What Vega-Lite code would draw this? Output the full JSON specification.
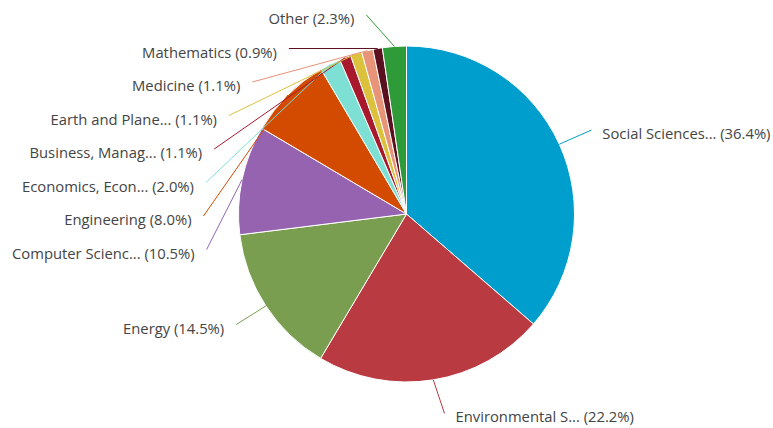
{
  "$schema": "https://vega.github.io/schema/vega-lite/v6.json",
  "width": 733,
  "height": 428,
  "autosize": {"type": "none"},
  "padding": {"left": 40, "right": 0, "top": 0, "bottom": 0},
  "background": "white",
  "config": {"view": {"stroke": null}},
  "data": {
    "values": [
      {"cat": "Social Sciences...", "pct": 36.4},
      {"cat": "Environmental S...", "pct": 22.2},
      {"cat": "Energy", "pct": 14.5},
      {"cat": "Computer Scienc...", "pct": 10.5},
      {"cat": "Engineering", "pct": 8.0},
      {"cat": "Economics, Econ...", "pct": 2.0},
      {"cat": "Business, Manag...", "pct": 1.1},
      {"cat": "Earth and Plane...", "pct": 1.1},
      {"cat": "Medicine", "pct": 1.1},
      {"cat": "Mathematics", "pct": 0.9},
      {"cat": "Other", "pct": 2.3}
    ]
  },
  "transform": [
    {"window": [{"op": "row_number", "as": "idx"}]},
    {"joinaggregate": [{"op": "sum", "field": "pct", "as": "total"}]},
    {"window": [{"op": "sum", "field": "pct", "as": "cum"}], "sort": [{"field": "idx"}], "frame": [null, 0]},
    {"calculate": "2*PI*(datum.cum - datum.pct/2)/datum.total", "as": "phi"},
    {"calculate": "sin(datum.phi) < 0 ? 'L' : 'R'", "as": "side"},
    {"calculate": "max(-199, -202*cos(datum.phi))", "as": "ey"},
    {"window": [{"op": "row_number", "as": "k"}], "groupby": ["side"], "sort": [{"field": "ey", "order": "ascending"}, {"field": "idx", "order": "descending"}]},
    {"calculate": "datum.ey - datum.k*33.5", "as": "z"},
    {"window": [{"op": "max", "field": "z", "as": "cz"}], "groupby": ["side"], "sort": [{"field": "ey", "order": "ascending"}, {"field": "idx", "order": "descending"}], "frame": [null, 0]},
    {"calculate": "datum.k*33.5 + datum.cz", "as": "ay"},
    {"calculate": "(datum.side == 'L' ? -1 : 1) * sqrt(max(0, 203*203 - datum.ay*datum.ay))", "as": "ax"},
    {"calculate": "168*sin(datum.phi)", "as": "ex"},
    {"calculate": "-168*cos(datum.phi)", "as": "eyy"},
    {"calculate": "datum.ax + (datum.side == 'L' ? -12 : 11)", "as": "tx"},
    {"calculate": "datum.ay + 5", "as": "ty"},
    {"calculate": "datum.cat + ' (' + format(datum.pct, '.1f') + '%)'", "as": "lbl"}
  ],
  "layer": [
    {
      "mark": {"type": "arc", "outerRadius": 168, "stroke": "white", "strokeWidth": 1},
      "encoding": {
        "theta": {"field": "pct", "type": "quantitative", "stack": true},
        "order": {"field": "idx", "type": "quantitative"},
        "color": {
          "field": "cat", "type": "nominal", "legend": null,
          "scale": {
            "domain": ["Social Sciences...", "Environmental S...", "Energy", "Computer Scienc...", "Engineering", "Economics, Econ...", "Business, Manag...", "Earth and Plane...", "Medicine", "Mathematics", "Other"],
            "range": ["#009ecc", "#b93a40", "#7a9e50", "#9663b0", "#d24b00", "#7ee0d4", "#a8192e", "#dcc13c", "#e89478", "#5b1020", "#2e9a38"]
          }
        }
      }
    },
    {
      "mark": {"type": "rule", "strokeWidth": 1},
      "encoding": {
        "x": {"field": "ex", "type": "quantitative", "axis": null, "scale": {"domain": [-366.5, 366.5], "nice": false, "zero": false}},
        "y": {"field": "eyy", "type": "quantitative", "axis": null, "scale": {"domain": [-214, 214], "nice": false, "zero": false, "reverse": true}},
        "x2": {"field": "ax"},
        "y2": {"field": "ay"},
        "color": {"field": "cat", "type": "nominal", "legend": null}
      }
    },
    {
      "transform": [{"filter": "datum.side == 'L'"}],
      "mark": {"type": "text", "align": "right", "baseline": "middle", "font": "Open Sans", "fontSize": 14.8, "color": "#444444"},
      "encoding": {
        "x": {"field": "tx", "type": "quantitative"},
        "y": {"field": "ty", "type": "quantitative"},
        "text": {"field": "lbl"}
      }
    },
    {
      "transform": [{"filter": "datum.side == 'R'"}],
      "mark": {"type": "text", "align": "left", "baseline": "middle", "font": "Open Sans", "fontSize": 14.8, "color": "#444444"},
      "encoding": {
        "x": {"field": "tx", "type": "quantitative"},
        "y": {"field": "ty", "type": "quantitative"},
        "text": {"field": "lbl"}
      }
    }
  ]
}
